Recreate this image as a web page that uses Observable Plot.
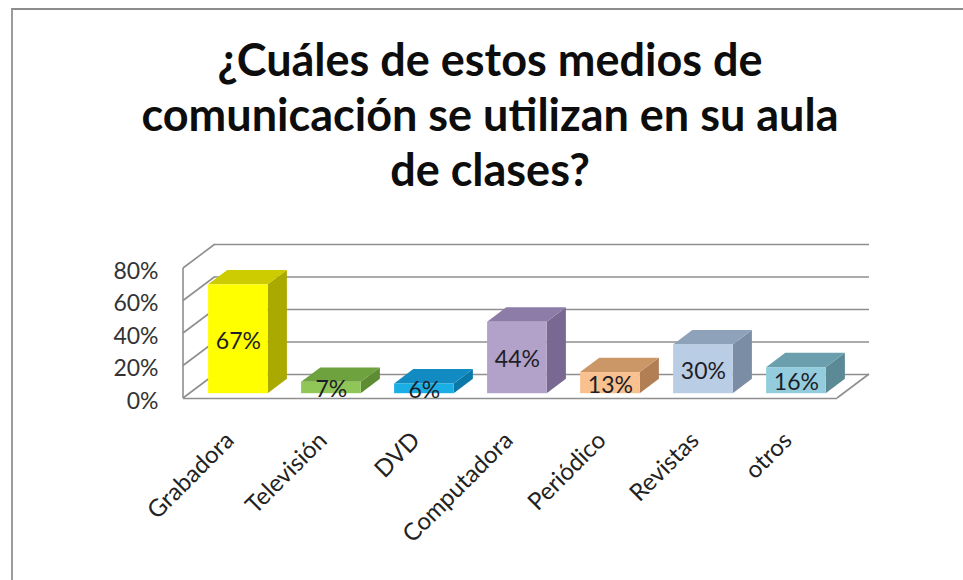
<!DOCTYPE html>
<html>
<head>
<meta charset="utf-8">
<script src="https://cdn.jsdelivr.net/npm/d3@7"></script>
<script src="https://cdn.jsdelivr.net/npm/@observablehq/plot@0.6"></script>
<style>
  html, body { margin: 0; padding: 0; background: #fff; overflow: hidden; width: 963px; height: 580px; }
  #frame { position: absolute; left: 11px; top: 8px; width: 1200px; height: 900px;
           border-left: 2px solid #9b9b9b; border-top: 2px solid #8c8c8c; }
  #title { position: absolute; left: 17px; top: 32px; width: 946px; text-align: center;
           font-family: Lato, "Open Sans", sans-serif; font-weight: 700; font-size: 45px;
           line-height: 55px; color: #0d0d0d; }
  #chart { position: absolute; left: 0; top: 215px; }
</style>
</head>
<body>
<div id="frame"></div>
<div id="title">¿Cuáles de estos medios de<br>comunicación se utilizan en su aula<br>de clases?</div>
<div id="chart"></div>
<script>
// ---- data ----
const categories = ["Grabadora", "Televisión", "DVD", "Computadora", "Periódico", "Revistas", "otros"];
const values = [67, 7, 6, 44, 13, 30, 16];
const yTicks = [0, 20, 40, 60, 80];
const frontColors = ["#ffff00", "#8fc657", "#1aaee5", "#b2a2ca", "#f9c18f", "#b9cde5", "#93cddd"];
const topColors   = ["#cccc00", "#6ea23e", "#128bc2", "#8d7ca8", "#cc9767", "#8ea2ba", "#6c9fad"];
const sideColors  = ["#a9a900", "#5d8c33", "#0b78aa", "#786892", "#b27f55", "#7a8da5", "#5b8995"];

const rows = categories.map((category, i) => ({category, value: values[i]}));

// ---- 3D geometry (pixel offsets) ----
const depth = {dx: 32, dy: -24};
const barNear = 0.2, barFar = 0.8;
const ox0 = depth.dx * barNear, oy0 = depth.dy * barNear;
const ox1 = depth.dx * barFar, oy1 = depth.dy * barFar;
const inset = 16.7;
const gridColor = "#8f8f8f";

function walls(index, {x, y}) {
  const [x0, x1] = x.range();
  const top = d3.max(yTicks);
  const g = d3.create("svg:g").attr("stroke", gridColor).attr("stroke-width", 1.6).attr("fill", "none");
  g.append("line").attr("x1", x0).attr("x2", x0).attr("y1", y(0)).attr("y2", y(top));
  for (const t of yTicks) {
    g.append("line").attr("x1", x0).attr("y1", y(t)).attr("x2", x0 + depth.dx).attr("y2", y(t) + depth.dy);
  }
  g.append("line").attr("x1", x1).attr("y1", y(0)).attr("x2", x1 + depth.dx).attr("y2", y(0) + depth.dy);
  return g.node();
}

function cubes(index, {x, y}) {
  const g = d3.create("svg:g").attr("stroke", "none");
  const bw = x.bandwidth();
  rows.forEach((d, i) => {
    const xl = x(d.category) + inset, xr = x(d.category) + bw - inset;
    const yt = y(d.value), yb = y(0);
    g.append("polygon").attr("fill", sideColors[i])
      .attr("points", [[xr + ox0, yt + oy0], [xr + ox1, yt + oy1], [xr + ox1, yb + oy1], [xr + ox0, yb + oy0]].join(" "));
    g.append("polygon").attr("fill", topColors[i])
      .attr("points", [[xl + ox0, yt + oy0], [xr + ox0, yt + oy0], [xr + ox1, yt + oy1], [xl + ox1, yt + oy1]].join(" "));
  });
  return g.node();
}

const chart = Plot.plot({
  width: 963,
  height: 365,
  marginLeft: 183,
  marginRight: 126,
  marginTop: 53,
  marginBottom: 182,
  style: {fontFamily: "Lato, 'Open Sans', sans-serif", background: "transparent", overflow: "visible"},
  x: {domain: categories, padding: 0},
  y: {domain: [0, 80]},
  color: {domain: categories, range: frontColors},
  marks: [
    // back wall gridlines
    Plot.ruleY(yTicks, {dx: depth.dx, dy: depth.dy, stroke: gridColor, strokeWidth: 1.6}),
    // floor front edge
    Plot.ruleY([0], {stroke: gridColor, strokeWidth: 1.6}),
    walls,
    cubes,
    Plot.barY(rows, {x: "category", y: "value", fill: "category", insetLeft: inset, insetRight: inset, dx: ox0, dy: oy0}),
    Plot.text(rows, {x: "category", y: d => d.value / 2, text: d => d.value + "%", dx: ox0, dy: oy0 + 2, fontSize: 23, fill: "#1e1e28"}),
    Plot.axisY(yTicks, {tickFormat: d => d + "%", tickSize: 0, tickPadding: 25, fontSize: 23, fill: "#333", dy: 3, label: null}),
    Plot.axisX({tickRotate: -45, tickSize: 0, tickPadding: 38, fontSize: 24, fill: "#222", dx: -2, label: null})
  ]
});
document.getElementById("chart").appendChild(chart);
</script>
</body>
</html>
